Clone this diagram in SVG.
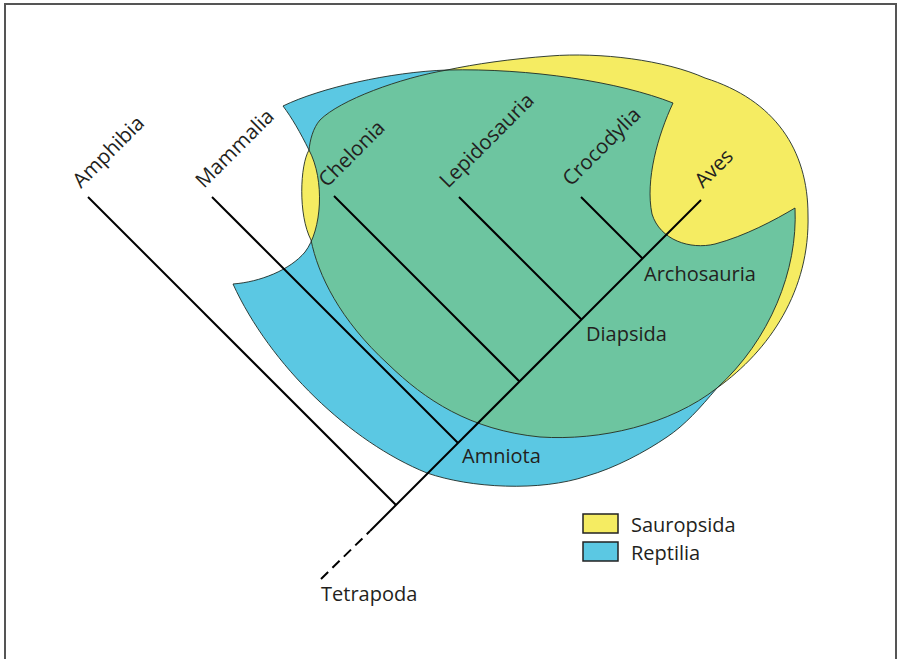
<svg xmlns="http://www.w3.org/2000/svg" width="897" height="659" viewBox="0 0 897 659">
<style>
text{font-family:"Open Sans","Noto Sans","Liberation Sans",sans-serif;font-size:20px;fill:#231f20}
.rot{font-size:20.5px}
.br{stroke:#000;stroke-width:2;fill:none;stroke-linecap:butt}
.outline{fill:none;stroke:#1e2b26;stroke-width:0.9}
</style>
<defs>
<path id="blueP" d="M283,106 C320,88 390,72 447,70 C530,68 620,82 673,103 C658,135 645,180 652,214 C660,240 690,250 715,244 C745,236 775,220 795,208 C798,270 770,340 717,388 C700,408 685,425 667,437 C645,452 615,468 587,476 C540,492 470,488 427,473 C350,442 270,365 233,284 C260,282 290,270 305,252 C322,230 325,180 309,150 C300,132 292,118 283,106 Z"/>
<path id="yellowP" d="M309,150 C300,165 298,215 311,240 C318,275 340,320 388,364 C425,400 470,430 540,437 C600,441 670,425 717,388 C770,350 810,290 808,215 C808,150 775,100 705,78 C665,60 600,52 550,56 C510,59 475,64 447,70 C400,78 340,100 320,120 C313,128 310,140 309,150 Z"/>
<clipPath id="blueClip"><use href="#blueP"/></clipPath>
</defs>
<rect x="5" y="4" width="891" height="700" fill="#fff" stroke="#555" stroke-width="2"/>
<g id="sets">
<use href="#blueP" fill="#5bc8e3" stroke="none"/>
<use href="#yellowP" fill="#f5ec62" stroke="none"/>
<use href="#yellowP" fill="#6dc5a0" stroke="none" clip-path="url(#blueClip)"/>
<use href="#blueP" class="outline"/>
<use href="#yellowP" class="outline"/>
</g>
<g id="connectors">
<line class="br" x1="701" y1="200" x2="370" y2="531"/>
<path class="br" d="M321,579 L370,531" stroke-dasharray="10 6"/>
<line class="br" x1="88" y1="197" x2="396" y2="505"/>
<line class="br" x1="212" y1="197" x2="458" y2="443"/>
<line class="br" x1="334" y1="196" x2="519.5" y2="381.5"/>
<line class="br" x1="459" y1="197" x2="581.5" y2="319.5"/>
<line class="br" x1="581" y1="197" x2="642.5" y2="258.5"/>
</g>
<g id="n-amphibia"><text class="rot" transform="translate(81,189) rotate(-45)">Amphibia</text></g>
<g id="n-mammalia"><text class="rot" transform="translate(204,189) rotate(-45)">Mammalia</text></g>
<g id="n-chelonia"><text class="rot" transform="translate(327,188) rotate(-45)">Chelonia</text></g>
<g id="n-lepidosauria"><text class="rot" transform="translate(448,189) rotate(-45)">Lepidosauria</text></g>
<g id="n-crocodylia"><text class="rot" transform="translate(571,187) rotate(-45)">Crocodylia</text></g>
<g id="n-aves"><text class="rot" transform="translate(703,189) rotate(-45)">Aves</text></g>
<g id="n-archosauria"><text x="644" y="281">Archosauria</text></g>
<g id="n-diapsida"><text x="586" y="341">Diapsida</text></g>
<g id="n-amniota"><text x="462" y="463">Amniota</text></g>
<g id="n-tetrapoda"><text x="321" y="601">Tetrapoda</text></g>
<g id="legend">
<rect x="583" y="514" width="35" height="19" fill="#f5ec62" stroke="#222" stroke-width="1.5"/>
<text x="631" y="532">Sauropsida</text>
<rect x="583" y="542" width="35" height="19" fill="#5bc8e3" stroke="#222" stroke-width="1.5"/>
<text x="631" y="560">Reptilia</text>
</g>
</svg>
